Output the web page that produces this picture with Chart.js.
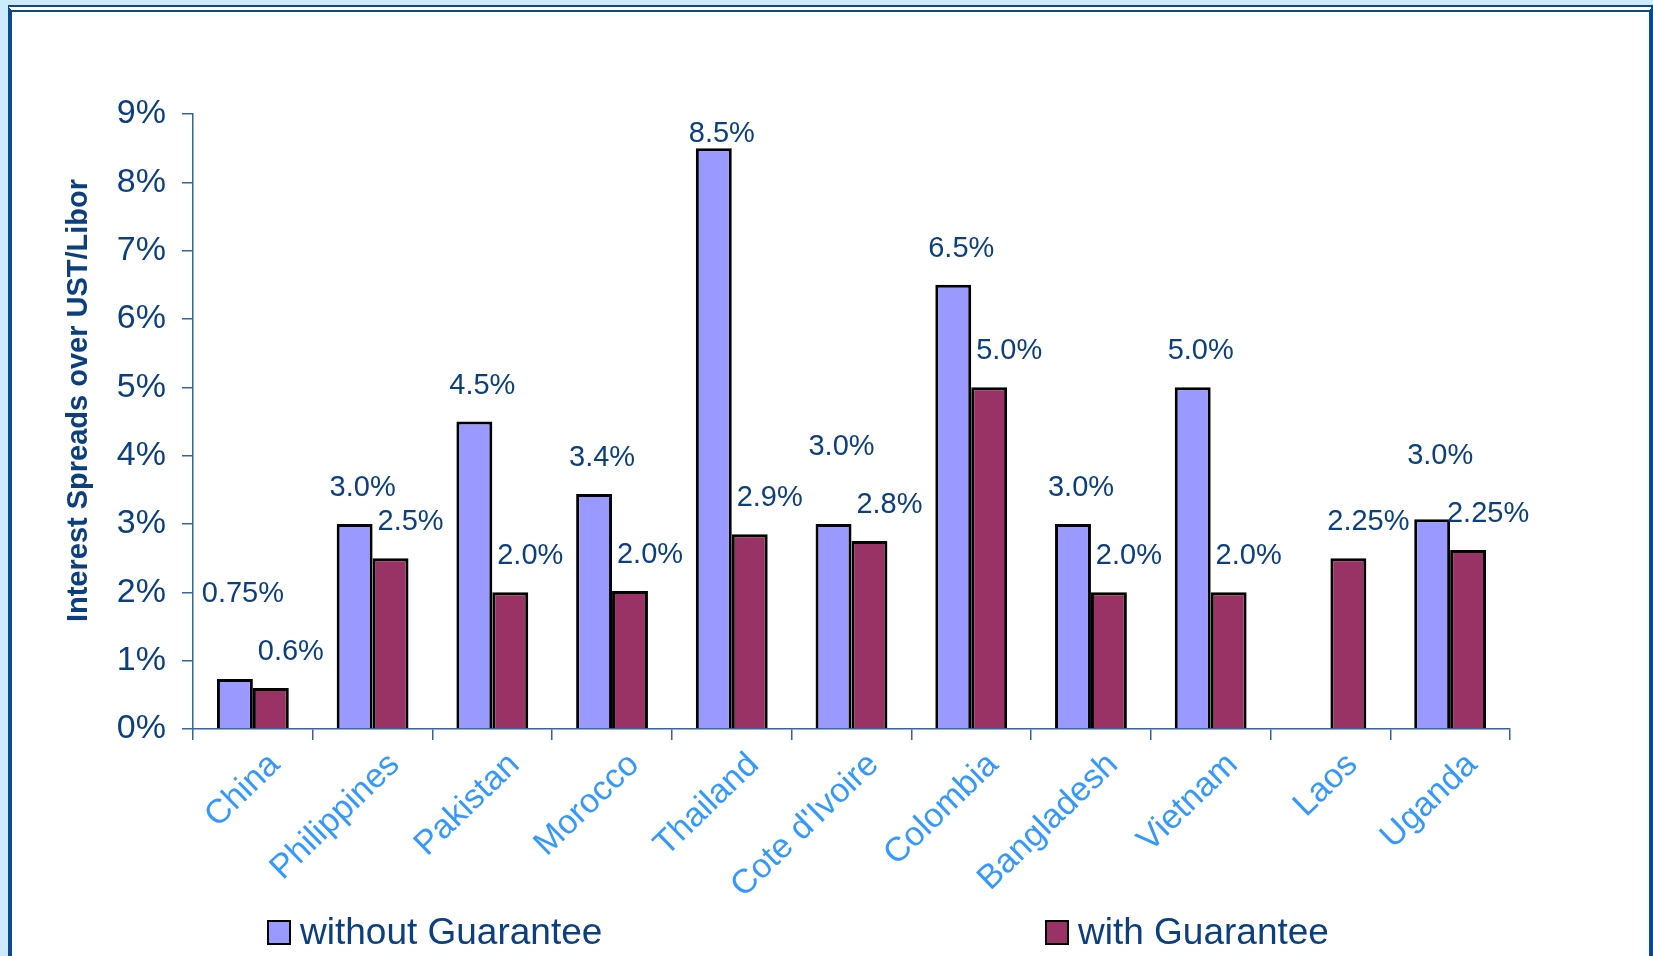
<!DOCTYPE html>
<html>
<head>
<meta charset="utf-8">
<script src="https://cdn.jsdelivr.net/npm/chart.js@4"></script>
<style>
  html, body { margin: 0; padding: 0; }
  body { width: 1653px; height: 956px; background: #cdeaff; position: relative; overflow: hidden; font-family: "Liberation Sans", Arial, sans-serif; }
  .frame { position: absolute; left: 8px; top: 5px; width: 1637px; height: 960px; background: #fff;
           border-left: 4px solid #0b4a8c; border-right: 4px solid #0b4a8c; border-top: 7px double #0b4a8c; }
  #chart { position: absolute; left: 0; top: 0; }
  .legend-item { position: absolute; top: 911px; display: flex; align-items: center; color: #0b3f7f; font-size: 37px; }
  .legend-box { width: 20px; height: 21px; border: 2.5px solid #000; margin-right: 9px; }
</style>
</head>
<body>
<div class="frame"></div>
<canvas id="chart" width="1653" height="956"></canvas>
<div id="legend"></div>
<script>
  const countries = ["China", "Philippines", "Pakistan", "Morocco", "Thailand", "Cote d'Ivoire", "Colombia", "Bangladesh", "Vietnam", "Laos", "Uganda"];

  // bar heights as drawn (%)
  const withoutGuarantee = [0.73, 3.0, 4.5, 3.44, 8.5, 3.0, 6.5, 3.0, 5.0, null, 3.07];
  const withGuarantee = [0.6, 2.5, 2.0, 2.02, 2.85, 2.75, 5.0, 2.0, 2.0, 2.5, 2.62];

  // value labels as printed on the slide
  const withoutLabels = ["0.75%", "3.0%", "4.5%", "3.4%", "8.5%", "3.0%", "6.5%", "3.0%", "5.0%", "", "3.0%"];
  const withLabels = ["0.6%", "2.5%", "2.0%", "2.0%", "2.9%", "2.8%", "5.0%", "2.0%", "2.0%", "2.25%", "2.25%"];

  const yTicks = [0, 1, 2, 3, 4, 5, 6, 7, 8, 9];
  const yTitle = "Interest Spreads over UST/Libor";

  const darkBlue = "#0b3f7f";
  const axisColor = "#3565a0";
  const font = "'Liberation Sans', Arial, sans-serif";

  // text above each bar; a label that would collide with a neighbour is lifted
  const barLabels = {
    id: "barLabels",
    afterDatasetsDraw(chart) {
      const ctx = chart.ctx;
      const top = chart.chartArea.top;
      ctx.save();
      ctx.font = "29px " + font;
      ctx.fillStyle = darkBlue;
      ctx.textAlign = "center";
      ctx.textBaseline = "middle";

      const place = (di, texts, dx) => {
        const meta = chart.getDatasetMeta(di);
        return meta.data.map((bar, i) => {
          const v = chart.data.datasets[di].data[i];
          if (v == null || !texts[i]) return null;
          const w = ctx.measureText(texts[i]).width;
          return { text: texts[i], x: bar.x + dx, y: Math.max(bar.y - 36, top + 20), w };
        });
      };
      const red = place(1, withLabels, 20);
      const blue = place(0, withoutLabels, 8);

      const hits = (a, b) => a && b && Math.abs(a.x - b.x) < (a.w + b.w) / 2 + 14 && Math.abs(a.y - b.y) < 32;
      blue.forEach((b, i) => {
        if (!b) return;
        [red[i], red[i - 1]].forEach(r => {
          if (hits(b, r)) b.y = Math.min(b.y, r.y - 58);
        });
      });

      [...red, ...blue].forEach(l => { if (l) ctx.fillText(l.text, l.x, l.y); });
      ctx.restore();
    }
  };

  // y axis title, sitting a little above the middle of the axis as on the slide
  const axisTitle = {
    id: "axisTitle",
    afterDraw(chart) {
      const ctx = chart.ctx;
      const { top, bottom } = chart.chartArea;
      ctx.save();
      ctx.translate(79, (top + bottom) / 2 - 21);
      ctx.rotate(-Math.PI / 2);
      ctx.font = "bold 29px " + font;
      ctx.fillStyle = darkBlue;
      ctx.textAlign = "center";
      ctx.textBaseline = "middle";
      ctx.fillText(yTitle, 0, 0);
      ctx.restore();
    }
  };

  const chart = new Chart(document.getElementById("chart"), {
    type: "bar",
    data: {
      labels: countries,
      datasets: [{
        label: "without Guarantee",
        data: withoutGuarantee,
        backgroundColor: "#9999ff",
        borderColor: "#000",
        borderWidth: 3
      }, {
        label: "with Guarantee",
        data: withGuarantee,
        backgroundColor: "#993366",
        borderColor: "#000",
        borderWidth: 3
      }]
    },
    options: {
      responsive: false,
      animation: false,
      layout: { padding: { top: 114, right: 143, bottom: 0, left: 0 } },
      datasets: { bar: { barPercentage: 1, categoryPercentage: 0.6 } },
      plugins: {
        legend: { display: false },
        tooltip: { enabled: false }
      },
      scales: {
        x: {
          grid: { drawOnChartArea: false, color: axisColor, tickLength: 11, lineWidth: 1.5 },
          border: { color: axisColor, width: 1.5 },
          ticks: {
            autoSkip: false,
            minRotation: 44,
            maxRotation: 44,
            padding: 5,
            labelOffset: 22,
            color: "#3399ff",
            font: { family: font, size: 34 }
          },
          afterFit(scale) { scale.height = 227; }
        },
        y: {
          min: 0,
          max: 9,
          afterBuildTicks(scale) { scale.ticks = yTicks.map(v => ({ value: v })); },
          grid: { drawOnChartArea: false, color: axisColor, tickLength: 11, lineWidth: 1.5 },
          border: { color: axisColor, width: 1.5 },
          ticks: {
            padding: 16,
            color: darkBlue,
            font: { family: font, size: 34 },
            callback: v => v + "%"
          },
          afterFit(scale) { scale.width = 193; }
        }
      }
    },
    plugins: [barLabels, axisTitle]
  });

  // legend spread across the bottom like the slide
  const legendSpots = [267, 1045];
  const legend = document.getElementById("legend");
  chart.data.datasets.forEach((ds, i) => {
    const item = document.createElement("div");
    item.className = "legend-item";
    item.style.left = legendSpots[i] + "px";
    item.innerHTML = `<span class="legend-box" style="background:${ds.backgroundColor}"></span><span>${ds.label}</span>`;
    legend.appendChild(item);
  });
</script>
</body>
</html>
